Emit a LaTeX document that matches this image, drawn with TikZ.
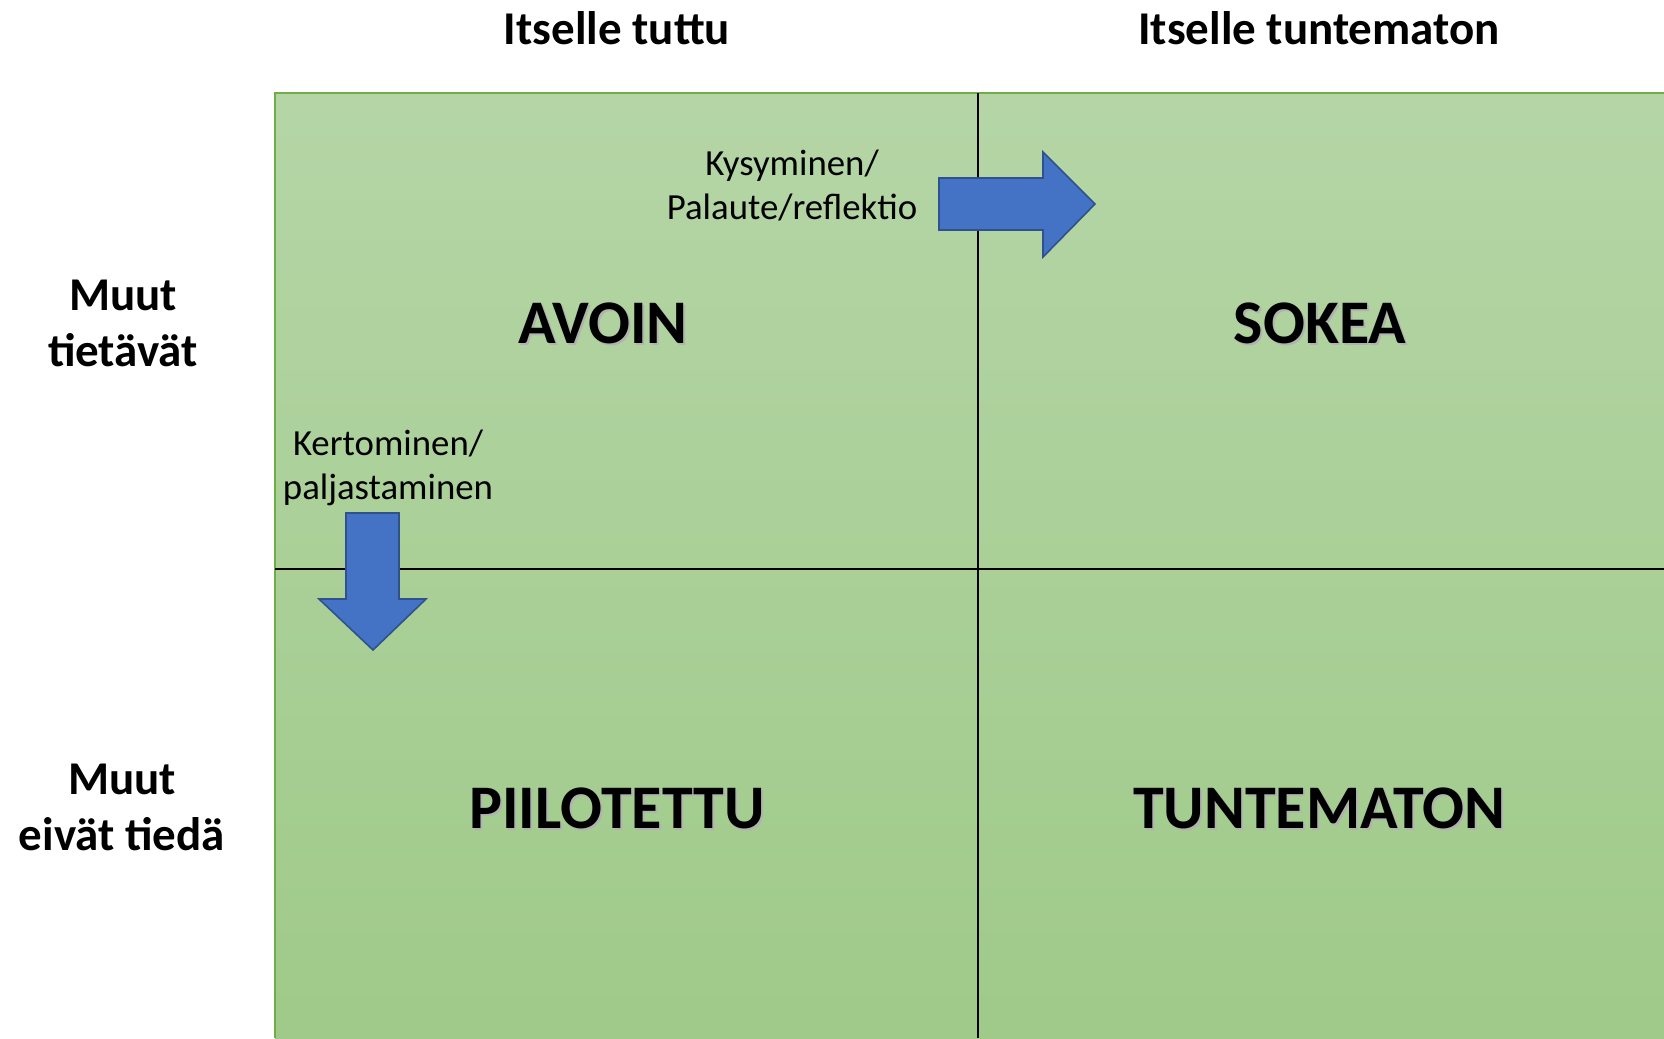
\documentclass[tikz,border=0pt]{standalone}
\usepackage{fontspec}
\setmainfont{Carlito}
\definecolor{quadtop}{HTML}{B5D5A6}
\definecolor{quadbottom}{HTML}{9FCA89}
\definecolor{quadedge}{HTML}{70AD47}
\definecolor{arrowfill}{HTML}{4472C4}
\definecolor{arrowedge}{HTML}{2F528F}
\newcommand\shadowed[1]{\makebox[0pt][l]{\kern1pt\raisebox{-1pt}{\color{black!30}#1}}#1}
\tikzset{
 heading/.style={font=\fontsize{23.5}{28}\selectfont\bfseries, align=center, inner sep=0pt},
 quadlabel/.style={font=\fontsize{31}{37}\selectfont\bfseries, inner sep=0pt},
 note/.style={font=\fontsize{18.4}{22}\selectfont, align=center, inner sep=0pt},
 blockarrow/.style={fill=arrowfill, draw=arrowedge, line width=0.8pt, line join=miter}
}
\begin{document}
\begin{tikzpicture}[x=0.5pt,y=-0.5pt]
 \useasboundingbox (0,0) rectangle (1664,1038);
 % the window
 \shade[top color=quadtop, bottom color=quadbottom] (275,93) rectangle (1664,1038);
 \draw[quadedge, line width=1pt] (275,1038) -- (275,93) -- (1664,93);
 \draw[line width=1.4pt] (978,93) -- (978,1038);
 \draw[line width=1.4pt] (275,569) -- (1664,569);
 % arrows
 \filldraw[blockarrow] (939,178) -- (1043,178) -- (1043,152) -- (1095,204)
   -- (1043,257) -- (1043,230) -- (939,230) -- cycle;
 \filldraw[blockarrow] (346,513) -- (399,513) -- (399,599) -- (426,599)
   -- (373,650) -- (319,599) -- (346,599) -- cycle;
 % headings
 \node[heading] (known) at (617,28) {Itselle tuttu};
 \node[heading] (unknown) at (1319,28) {Itselle tuntematon};
 \node[heading] (othersknow) at (123,323) {Muut\\tietävät};
 \node[heading] (othersnot) at (122,807) {Muut\\eivät tiedä};
 % quadrants
 \node[quadlabel] (open) at (603,324) {\shadowed{AVOIN}};
 \node[quadlabel] (blind) at (1320,324) {\shadowed{SOKEA}};
 \node[quadlabel] (hidden) at (617,809) {\shadowed{PIILOTETTU}};
 \node[quadlabel] (unknownarea) at (1319,809) {\shadowed{TUNTEMATON}};
 \node[note] (asking) at (792,186) {Kysyminen/\\Palaute/reflektio};
 \node[note] (telling) at (388,468) {Kertominen/\\paljastaminen};
\end{tikzpicture}
\end{document}
